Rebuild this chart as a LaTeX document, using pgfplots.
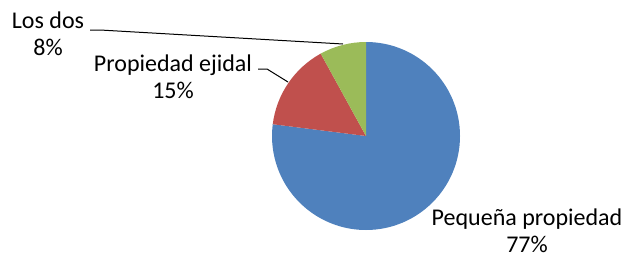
\documentclass[border=0pt]{standalone}
\usepackage{pgfplots}
\pgfplotsset{compat=1.18}
\usepackage{fontspec}
\setmainfont{Carlito}
\definecolor{pblue}{HTML}{4F81BD}
\definecolor{pred}{HTML}{C0504D}
\definecolor{pgreen}{HTML}{9BBB59}
\begin{document}
\begin{tikzpicture}
\begin{axis}[x=1pt,y=1pt,xmin=0,xmax=634,ymin=0,ymax=258,hide axis,clip=false,
  scale only axis]
\path (axis cs:0,0) rectangle (axis cs:634,258);
% slices: Pequeña propiedad 77, Propiedad ejidal 15, Los dos 8 (clockwise from top)
\fill[pblue] (axis cs:366,122) -- ++(90:94pt) arc[start angle=90, delta angle={-77*3.6}, radius=94pt] -- cycle;
\fill[pred] (axis cs:366,122) -- ++({90-77*3.6}:94pt) arc[start angle={90-77*3.6}, delta angle={-15*3.6}, radius=94pt] -- cycle;
\fill[pgreen] (axis cs:366,122) -- ++({90-92*3.6}:94pt) arc[start angle={90-92*3.6}, delta angle={-8*3.6}, radius=94pt] -- cycle;
\draw[black,line width=1pt] (axis cs:90,228) -- (axis cs:100,228) -- (axis cs:343,214);
\draw[black,line width=1pt] (axis cs:258,189) -- (axis cs:267,189) -- (axis cs:288,176);
\node[align=center,font=\fontsize{24}{27}\selectfont] at (axis cs:48,224) {Los dos\\8\%};
\node[align=center,font=\fontsize{24}{27}\selectfont] at (axis cs:173,181) {Propiedad ejidal\\15\%};
\node[align=center,font=\fontsize{24}{27}\selectfont] at (axis cs:527,27) {Pequeña propiedad\\77\%};
\end{axis}
\end{tikzpicture}
\end{document}
